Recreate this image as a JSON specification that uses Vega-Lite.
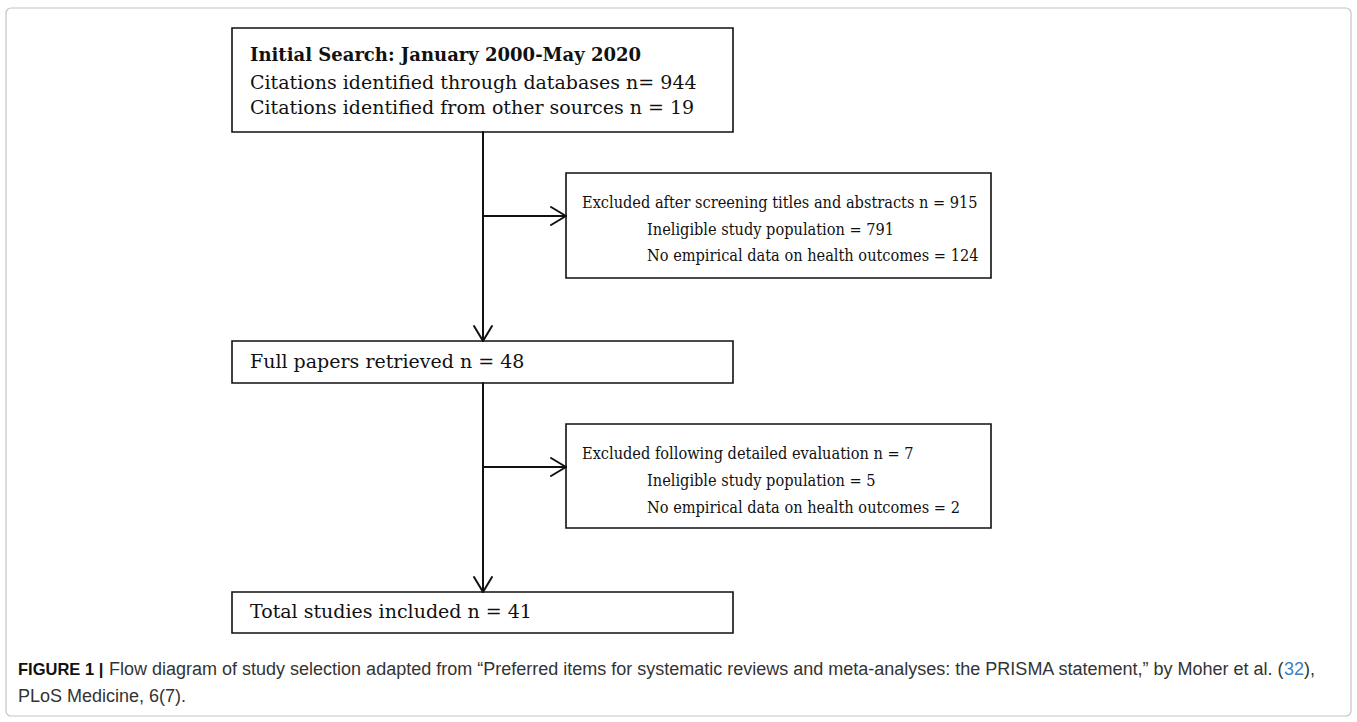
{
  "$schema": "https://vega.github.io/schema/vega-lite/v6.json",
  "width": 1357,
  "height": 722,
  "autosize": {"type": "none"},
  "padding": 0,
  "background": "white",
  "config": {"view": {"stroke": null}},
  "datasets": {
    "frame": [{"x": 6, "x2": 1351, "y": 8, "y2": 716}],
    "boxes": [
      {"id": "search", "x": 232, "x2": 733, "y": 28, "y2": 132},
      {"id": "excl1", "x": 566, "x2": 991, "y": 173, "y2": 278},
      {"id": "full", "x": 232, "x2": 733, "y": 341, "y2": 383},
      {"id": "excl2", "x": 566, "x2": 991, "y": 424, "y2": 528},
      {"id": "total", "x": 232, "x2": 733, "y": 592, "y2": 633}
    ],
    "lines": [
      {"seg": "v1", "x": 483, "x2": 483, "y": 132, "y2": 341},
      {"seg": "v2", "x": 483, "x2": 483, "y": 383, "y2": 592},
      {"seg": "h1", "x": 483, "x2": 566, "y": 216, "y2": 216},
      {"seg": "h2", "x": 483, "x2": 566, "y": 467, "y2": 467},
      {"seg": "h1a", "x": 551, "x2": 566, "y": 207, "y2": 216},
      {"seg": "h1b", "x": 551, "x2": 566, "y": 225, "y2": 216},
      {"seg": "h2a", "x": 551, "x2": 566, "y": 458, "y2": 467},
      {"seg": "h2b", "x": 551, "x2": 566, "y": 476, "y2": 467},
      {"seg": "v1a", "x": 474, "x2": 483, "y": 326, "y2": 341},
      {"seg": "v1b", "x": 492, "x2": 483, "y": 326, "y2": 341},
      {"seg": "v2a", "x": 474, "x2": 483, "y": 577, "y2": 592},
      {"seg": "v2b", "x": 492, "x2": 483, "y": 577, "y2": 592}
    ],
    "texts": [
      {"kind": "bold", "x": 250, "y": 56, "label": "Initial Search: January 2000-May 2020"},
      {"kind": "plain", "x": 250, "y": 83, "label": "Citations identified through databases n= 944"},
      {"kind": "plain", "x": 250, "y": 108, "label": "Citations identified from other sources n = 19"},
      {"kind": "narrow", "x": 582, "y": 203, "label": "Excluded after screening titles and abstracts n = 915"},
      {"kind": "narrow", "x": 647, "y": 230, "label": "Ineligible study population = 791"},
      {"kind": "narrow", "x": 647, "y": 256, "label": "No empirical data on health outcomes = 124"},
      {"kind": "plain", "x": 250, "y": 362, "label": "Full papers retrieved n = 48"},
      {"kind": "narrow", "x": 582, "y": 454, "label": "Excluded following detailed evaluation n = 7"},
      {"kind": "narrow", "x": 647, "y": 481, "label": "Ineligible study population = 5"},
      {"kind": "narrow", "x": 647, "y": 508, "label": "No empirical data on health outcomes = 2"},
      {"kind": "plain", "x": 250, "y": 612, "label": "Total studies included n = 41"}
    ],
    "caption": [
      {"kind": "capbold", "x": 18, "y": 670, "label": "FIGURE 1 |"},
      {"kind": "cap", "x": 109, "y": 670, "label": "Flow diagram of study selection adapted from “Preferred items for systematic reviews and meta-analyses: the PRISMA statement,” by Moher et al. ("},
      {"kind": "caplink", "x": 1284, "y": 670, "label": "32"},
      {"kind": "cap", "x": 1304, "y": 670, "label": "),"},
      {"kind": "cap", "x": 18, "y": 697, "label": "PLoS Medicine, 6(7)."}
    ]
  },
  "layer": [
    {
      "data": {"name": "frame"},
      "mark": {"type": "rect", "fill": "transparent", "stroke": "#c4c4c4", "strokeWidth": 1.2, "cornerRadius": 5},
      "encoding": {
        "x": {"field": "x", "type": "quantitative", "scale": {"domain": [0, 1357], "nice": false, "zero": false}, "axis": null},
        "x2": {"field": "x2"},
        "y": {"field": "y", "type": "quantitative", "scale": {"domain": [0, 722], "nice": false, "zero": false, "reverse": true}, "axis": null},
        "y2": {"field": "y2"}
      }
    },
    {
      "data": {"name": "boxes"},
      "mark": {"type": "rect", "fill": "#cfcfcf", "opacity": 0.7, "xOffset": 2, "yOffset": 2},
      "encoding": {
        "x": {"field": "x", "type": "quantitative", "axis": null},
        "x2": {"field": "x2"},
        "y": {"field": "y", "type": "quantitative", "axis": null},
        "y2": {"field": "y2"}
      }
    },
    {
      "data": {"name": "boxes"},
      "mark": {"type": "rect", "fill": "white", "stroke": "#111111", "strokeWidth": 1.6},
      "encoding": {
        "x": {"field": "x", "type": "quantitative", "axis": null},
        "x2": {"field": "x2"},
        "y": {"field": "y", "type": "quantitative", "axis": null},
        "y2": {"field": "y2"}
      }
    },
    {
      "data": {"name": "lines"},
      "mark": {"type": "rule", "stroke": "#111111", "strokeWidth": 2, "strokeCap": "round"},
      "encoding": {
        "x": {"field": "x", "type": "quantitative", "axis": null},
        "x2": {"field": "x2"},
        "y": {"field": "y", "type": "quantitative", "axis": null},
        "y2": {"field": "y2"}
      }
    },
    {
      "data": {"name": "texts"},
      "transform": [{"filter": "datum.kind === 'bold'"}],
      "mark": {"type": "text", "align": "left", "baseline": "middle", "font": "DejaVu Serif", "fontSize": 18, "fontWeight": "bold", "fill": "#111111"},
      "encoding": {
        "x": {"field": "x", "type": "quantitative", "axis": null},
        "y": {"field": "y", "type": "quantitative", "axis": null},
        "text": {"field": "label"}
      }
    },
    {
      "data": {"name": "texts"},
      "transform": [{"filter": "datum.kind === 'plain'"}],
      "mark": {"type": "text", "align": "left", "baseline": "middle", "font": "DejaVu Serif", "fontSize": 19, "fill": "#111111"},
      "encoding": {
        "x": {"field": "x", "type": "quantitative", "axis": null},
        "y": {"field": "y", "type": "quantitative", "axis": null},
        "text": {"field": "label"}
      }
    },
    {
      "data": {"name": "texts"},
      "transform": [{"filter": "datum.kind === 'narrow'"}],
      "mark": {"type": "text", "align": "left", "baseline": "middle", "font": "DejaVu Serif Condensed", "fontSize": 16.2, "fill": "#111111"},
      "encoding": {
        "x": {"field": "x", "type": "quantitative", "axis": null},
        "y": {"field": "y", "type": "quantitative", "axis": null},
        "text": {"field": "label"}
      }
    },
    {
      "data": {"name": "caption"},
      "transform": [{"filter": "datum.kind === 'capbold'"}],
      "mark": {"type": "text", "align": "left", "baseline": "middle", "font": "Liberation Sans", "fontSize": 16.5, "fontWeight": "bold", "fill": "#111111"},
      "encoding": {
        "x": {"field": "x", "type": "quantitative", "axis": null},
        "y": {"field": "y", "type": "quantitative", "axis": null},
        "text": {"field": "label"}
      }
    },
    {
      "data": {"name": "caption"},
      "transform": [{"filter": "datum.kind === 'cap'"}],
      "mark": {"type": "text", "align": "left", "baseline": "middle", "font": "Liberation Sans", "fontSize": 18, "fill": "#333333"},
      "encoding": {
        "x": {"field": "x", "type": "quantitative", "axis": null},
        "y": {"field": "y", "type": "quantitative", "axis": null},
        "text": {"field": "label"}
      }
    },
    {
      "data": {"name": "caption"},
      "transform": [{"filter": "datum.kind === 'caplink'"}],
      "mark": {"type": "text", "align": "left", "baseline": "middle", "font": "Liberation Sans", "fontSize": 18, "fill": "#3a7fc4"},
      "encoding": {
        "x": {"field": "x", "type": "quantitative", "axis": null},
        "y": {"field": "y", "type": "quantitative", "axis": null},
        "text": {"field": "label"}
      }
    }
  ]
}
